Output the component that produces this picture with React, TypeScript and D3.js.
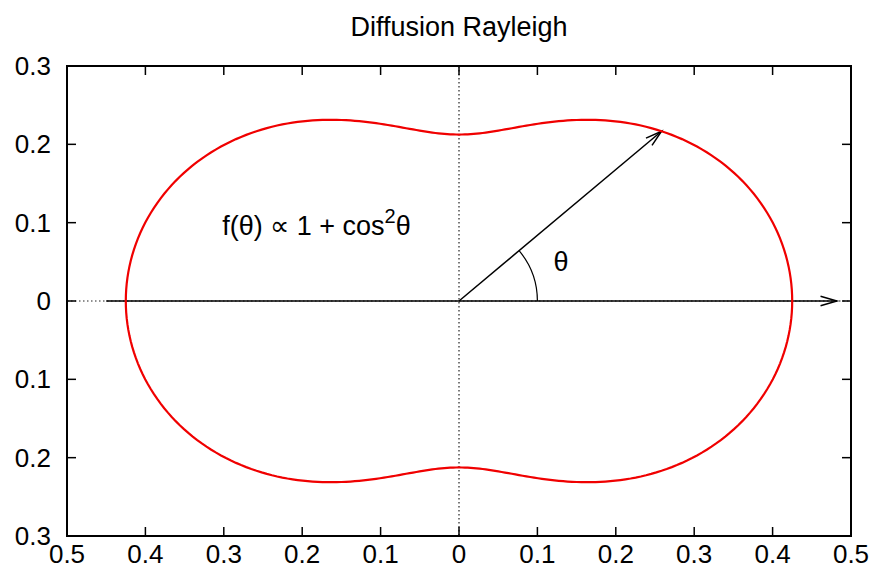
import React from "react";
import * as d3 from "d3";

const title = "Diffusion Rayleigh";
const xTicks = [-0.5, -0.4, -0.3, -0.2, -0.1, 0, 0.1, 0.2, 0.3, 0.4, 0.5];
const yTicks = [-0.3, -0.2, -0.1, 0, 0.1, 0.2, 0.3];
const amplitude = 0.2125; // r(θ) = a (1 + cos²θ)
const anglesDeg = d3.range(0, 361, 1);
const thetaArrowDeg = 40;
const axisArrow = { x0: -0.45, x1: 0.482 };
const arcRadius = 0.1;

const W = 877, H = 577;
const L = 67, R = 851, T = 66, B = 536;
const FONT = "'Liberation Sans', Arial, Helvetica, sans-serif";
const FS = 26;

const fmt = (v: number) => {
  const a = Math.abs(v);
  return a < 1e-9 ? "0" : d3.format(".1f")(a);
};

function arrowHead(x0: number, y0: number, x1: number, y1: number, len = 17, ang = 16) {
  const a = Math.atan2(y1 - y0, x1 - x0);
  const t = (ang * Math.PI) / 180;
  const p1 = [x1 - len * Math.cos(a - t), y1 - len * Math.sin(a - t)];
  const p2 = [x1 - len * Math.cos(a + t), y1 - len * Math.sin(a + t)];
  return `M${p1[0]},${p1[1]}L${x1},${y1}L${p2[0]},${p2[1]}`;
}

export default function App() {
  const x = d3.scaleLinear().domain([-0.5, 0.5]).range([L, R]);
  const y = d3.scaleLinear().domain([-0.3, 0.3]).range([B, T]);

  const r = (deg: number) => {
    const c = Math.cos((deg * Math.PI) / 180);
    return amplitude * (1 + c * c);
  };
  const curve = d3
    .line<number>()
    .x((d) => x(r(d) * Math.cos((d * Math.PI) / 180)))
    .y((d) => y(r(d) * Math.sin((d * Math.PI) / 180)))(anglesDeg) as string;

  const ta = (thetaArrowDeg * Math.PI) / 180;
  const ax1 = x(r(thetaArrowDeg) * Math.cos(ta));
  const ay1 = y(r(thetaArrowDeg) * Math.sin(ta));
  const ox = x(0), oy = y(0);

  const arcP = d3.path();
  const rp = x(arcRadius) - x(0);
  arcP.moveTo(ox + rp, oy);
  arcP.arc(ox, oy, rp, 0, -ta, true);

  const hx0 = x(axisArrow.x0), hx1 = x(axisArrow.x1);
  const tick = 9;

  return (
    <svg width={W} height={H} style={{ display: "block", position: "absolute", left: 0, top: 0, background: "#fff" }}>
      <rect width={W} height={H} fill="#fff" />
      <text x={(L + R) / 2} y={27} textAnchor="middle" dominantBaseline="central" fontFamily={FONT} fontSize={27}>
        {title}
      </text>
      {/* zero axes (dotted) */}
      <line x1={L} x2={R} y1={oy} y2={oy} stroke="#222" strokeWidth={1.2} strokeDasharray="1.5 2.5" />
      <line x1={ox} x2={ox} y1={T} y2={B} stroke="#222" strokeWidth={1.2} strokeDasharray="1.5 2.5" />
      {/* ticks */}
      {xTicks.map((t) => (
        <g key={"xt" + t}>
          <line x1={x(t)} x2={x(t)} y1={B} y2={B - tick} stroke="#000" strokeWidth={1.5} />
          <line x1={x(t)} x2={x(t)} y1={T} y2={T + tick} stroke="#000" strokeWidth={1.5} />
          <text x={x(t)} y={554} textAnchor="middle" dominantBaseline="central" fontFamily={FONT} fontSize={FS}>
            {fmt(t)}
          </text>
        </g>
      ))}
      {yTicks.map((t) => (
        <g key={"yt" + t}>
          <line x1={L} x2={L + tick} y1={y(t)} y2={y(t)} stroke="#000" strokeWidth={1.5} />
          <line x1={R} x2={R - tick} y1={y(t)} y2={y(t)} stroke="#000" strokeWidth={1.5} />
          <text x={51} y={y(t)} textAnchor="end" dominantBaseline="central" fontFamily={FONT} fontSize={FS}>
            {fmt(t)}
          </text>
        </g>
      ))}
      {/* horizontal arrow */}
      <line x1={hx0} x2={hx1} y1={oy} y2={oy} stroke="#000" strokeWidth={1.5} />
      <path d={arrowHead(hx0, oy, hx1, oy)} fill="none" stroke="#000" strokeWidth={1.5} />
      {/* theta arrow */}
      <line x1={ox} y1={oy} x2={ax1} y2={ay1} stroke="#000" strokeWidth={1.5} />
      <path d={arrowHead(ox, oy, ax1, ay1)} fill="none" stroke="#000" strokeWidth={1.5} />
      {/* angle arc */}
      <path d={arcP.toString()} fill="none" stroke="#000" strokeWidth={1.2} />
      {/* curve */}
      <path d={curve} fill="none" stroke="#f00000" strokeWidth={2.2} />
      {/* labels */}
      <text x={x(0.13)} y={y(0.05)} textAnchor="middle" dominantBaseline="central" fontFamily={FONT} fontSize={27}>
        θ
      </text>
      <text x={x(-0.302)} y={y(0.096)} dominantBaseline="central" fontFamily={FONT} fontSize={27}>
        f(θ) ∝ 1 + cos<tspan fontSize={20} dy={-10}>2</tspan><tspan dy={10}>θ</tspan>
      </text>
      {/* frame */}
      <rect x={L} y={T} width={R - L} height={B - T} fill="none" stroke="#000" strokeWidth={2} />
    </svg>
  );
}
